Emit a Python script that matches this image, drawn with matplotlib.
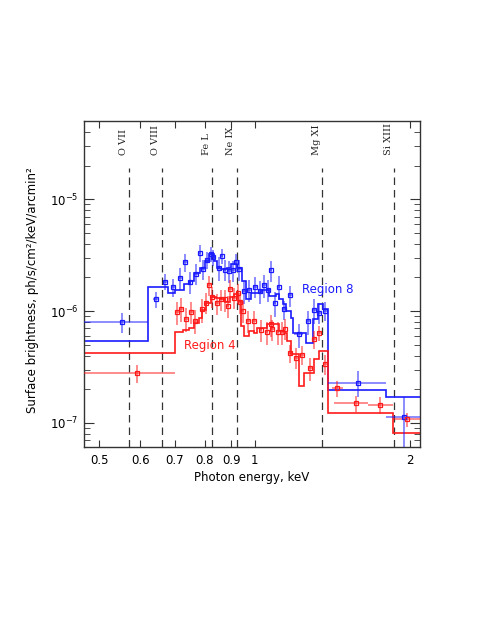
import numpy as np
import matplotlib
matplotlib.use('Agg')
import matplotlib.pyplot as plt
from matplotlib.ticker import FixedLocator, NullLocator, LogLocator

plt.rcParams['font.family'] = ['DejaVu Sans']

# Region 8 (blue) data points
e8 = [0.553, 0.644, 0.671, 0.694, 0.716, 0.732, 0.748, 0.770, 0.782, 0.795,
      0.810, 0.824, 0.831, 0.852, 0.863, 0.874, 0.892, 0.908, 0.920, 0.933,
      0.954, 0.975, 1.002, 1.024, 1.042, 1.061, 1.074, 1.093, 1.113, 1.141,
      1.171, 1.216, 1.269, 1.303, 1.333, 1.366, 1.587, 1.944]
s8 = [0.80, 1.27, 1.83, 1.65, 1.98, 2.72, 1.82, 2.16, 3.32, 2.39,
      2.87, 3.24, 3.05, 2.44, 3.12, 2.34, 2.29, 2.33, 2.75, 2.36,
      1.51, 1.55, 1.65, 1.51, 1.70, 1.55, 2.31, 1.18, 1.65, 1.04,
      1.39, 0.62, 0.81, 1.02, 0.97, 1.01, 0.23, 0.112]
s8err = [0.16, 0.20, 0.30, 0.30, 0.45, 0.50, 0.40, 0.45, 0.60, 0.50,
         0.50, 0.50, 0.50, 0.60, 0.50, 0.50, 0.50, 0.50, 0.50, 0.50,
         0.35, 0.35, 0.35, 0.35, 0.40, 0.35, 0.50, 0.30, 0.40, 0.20,
         0.30, 0.15, 0.20, 0.25, 0.20, 0.20, 0.06, 0.06]
e8lo = [0.086, 0.010, 0.006, 0.006, 0.006, 0.006, 0.006, 0.006, 0.006, 0.006,
        0.006, 0.006, 0.006, 0.006, 0.006, 0.006, 0.006, 0.006, 0.006, 0.006,
        0.008, 0.008, 0.008, 0.008, 0.008, 0.008, 0.008, 0.008, 0.008, 0.010,
        0.010, 0.025, 0.012, 0.012, 0.012, 0.012, 0.199, 0.148]
e8hi = [0.069, 0.010, 0.006, 0.006, 0.006, 0.006, 0.006, 0.006, 0.006, 0.006,
        0.006, 0.006, 0.006, 0.006, 0.006, 0.006, 0.006, 0.006, 0.006, 0.006,
        0.008, 0.008, 0.008, 0.008, 0.008, 0.008, 0.008, 0.008, 0.008, 0.010,
        0.010, 0.025, 0.012, 0.012, 0.012, 0.012, 0.209, 0.150]

# Region 4 (red) data points
e4 = [0.592, 0.708, 0.721, 0.737, 0.752, 0.766, 0.789, 0.804, 0.815, 0.828,
      0.845, 0.859, 0.874, 0.886, 0.897, 0.912, 0.926, 0.937, 0.948, 0.969,
      0.997, 1.027, 1.054, 1.074, 1.082, 1.107, 1.127, 1.143, 1.169, 1.201,
      1.236, 1.279, 1.303, 1.334, 1.367, 1.440, 1.571, 1.748, 1.970]
s4 = [0.280, 0.974, 1.05, 0.857, 0.99, 0.818, 1.035, 1.19, 1.72, 1.35,
      1.18, 1.28, 1.27, 1.11, 1.59, 1.32, 1.46, 1.20, 1.01, 0.814,
      0.814, 0.675, 0.648, 0.760, 0.687, 0.650, 0.650, 0.697, 0.422, 0.384,
      0.408, 0.308, 0.559, 0.636, 0.339, 0.204, 0.150, 0.145, 0.108]
s4err = [0.05, 0.22, 0.25, 0.20, 0.22, 0.20, 0.25, 0.25, 0.35, 0.28,
         0.25, 0.28, 0.28, 0.25, 0.30, 0.28, 0.30, 0.25, 0.22, 0.18,
         0.18, 0.15, 0.15, 0.17, 0.15, 0.15, 0.15, 0.15, 0.08, 0.08,
         0.08, 0.07, 0.10, 0.10, 0.07, 0.035, 0.025, 0.025, 0.015]
e4lo = [0.125, 0.006, 0.006, 0.006, 0.006, 0.006, 0.006, 0.006, 0.006, 0.006,
        0.006, 0.006, 0.006, 0.006, 0.006, 0.006, 0.006, 0.006, 0.006, 0.008,
        0.008, 0.008, 0.008, 0.008, 0.008, 0.008, 0.008, 0.008, 0.010, 0.010,
        0.010, 0.010, 0.010, 0.010, 0.010, 0.032, 0.146, 0.093, 0.120]
e4hi = [0.108, 0.006, 0.006, 0.006, 0.006, 0.006, 0.006, 0.006, 0.006, 0.006,
        0.006, 0.006, 0.006, 0.006, 0.006, 0.006, 0.006, 0.006, 0.006, 0.008,
        0.008, 0.008, 0.008, 0.008, 0.008, 0.008, 0.008, 0.008, 0.010, 0.010,
        0.010, 0.010, 0.010, 0.010, 0.010, 0.045, 0.084, 0.103, 0.120]

# model step functions (bin edges, values in 1e-6)
m8_edges = [0.45, 0.622, 0.679, 0.702, 0.729, 0.749, 0.762, 0.783, 0.800, 0.815,
            0.834, 0.846, 0.862, 0.885, 0.898, 0.923, 0.946, 0.960, 0.982, 1.027,
            1.066, 1.098, 1.115, 1.132, 1.149, 1.175, 1.184, 1.256, 1.294, 1.324,
            1.353, 1.388, 1.796, 2.20]
m8_vals = [0.536, 1.65, 1.46, 1.56, 1.73, 1.85, 2.20, 2.44, 2.79, 3.21,
           2.79, 2.44, 2.36, 2.44, 2.65, 2.44, 1.85, 1.27, 1.46, 1.56,
           1.36, 1.41, 1.27, 1.15, 1.00, 0.873, 0.641, 0.522, 0.843, 1.15,
           1.035, 0.197, 0.172]
m4_edges = [0.45, 0.702, 0.727, 0.745, 0.762, 0.779, 0.791, 0.803, 0.821, 0.840,
            0.859, 0.874, 0.895, 0.912, 0.926, 0.939, 0.953, 0.975, 0.997, 1.012,
            1.058, 1.115, 1.140, 1.157, 1.175, 1.216, 1.246, 1.303, 1.333, 1.388,
            1.851, 2.20]
m4_vals = [0.419, 0.655, 0.677, 0.711, 0.788, 0.873, 1.02, 1.19, 1.345, 1.317,
           1.27, 1.196, 1.35, 1.41, 1.23, 0.735, 0.598, 0.663, 0.641, 0.711,
           0.760, 0.663, 0.641, 0.540, 0.411, 0.214, 0.282, 0.37, 0.44, 0.122,
           0.082]

# emission lines
line_e = [0.572, 0.660, 0.825, 0.922, 1.35, 1.86]
line_names = ['O VII', 'O VIII', 'Fe L', 'Ne IX', 'Mg XI', 'Si XIII']

blue = '#1a1aff'
red = '#ff1a1a'

fig = plt.figure(figsize=(4.88, 6.32), dpi=100)
ax = fig.add_axes([0.172, 0.2927, 0.689, 0.5158])

sc = 1e-6
for ee, ss, se, lo, hi, col in [(e8, s8, s8err, e8lo, e8hi, blue),
                                (e4, s4, s4err, e4lo, e4hi, red)]:
    ee = np.array(ee); ss = np.array(ss) * sc; se = np.array(se) * sc
    ax.errorbar(ee, ss, yerr=se, xerr=[lo, hi], fmt='none', ecolor=col,
                alpha=0.5, elinewidth=1.4, capsize=0, zorder=3)
    ax.plot(ee, ss, 's', ms=3.0, mfc='none', mec=col, mew=0.9, zorder=4)

ax.stairs(np.array(m8_vals) * sc, m8_edges, baseline=None, color=blue, lw=1.2, zorder=2)
ax.stairs(np.array(m4_vals) * sc, m4_edges, baseline=None, color=red, lw=1.2, zorder=2)

ax.set_xscale('log')
ax.set_yscale('log')
ax.set_xlim(0.467, 2.09)
ax.set_ylim(6.1e-8, 5.0e-5)

for le, ln in zip(line_e, line_names):
    ax.axvline(le, ymin=0, ymax=0.856, color='#333333', lw=0.9,
               dashes=(6, 4), zorder=1)
    ax.annotate(ln, xy=(le, 1.92e-5), xytext=(-4, 9), textcoords='offset points',
                rotation=90, ha='center', va='bottom', fontsize=7,
                family='DejaVu Serif', color='#222222')

ax.text(1.386, 1.56e-6, 'Region 8', color=blue, fontsize=8.5, ha='center', va='center')
ax.text(0.818, 4.94e-7, 'Region 4', color=red, fontsize=8.5, ha='center', va='center')

ax.xaxis.set_major_locator(FixedLocator([0.5, 0.6, 0.7, 0.8, 0.9, 1, 2]))
ax.xaxis.set_minor_locator(NullLocator())
ax.set_xticklabels(['0.5', '0.6', '0.7', '0.8', '0.9', '1', '2'])
ax.yaxis.set_major_locator(LogLocator(base=10))
ax.yaxis.set_minor_locator(LogLocator(base=10, subs=np.arange(2, 10)))

ax.tick_params(which='both', direction='in', top=True, right=True, labelsize=8.5,
               color='#333333')
ax.tick_params(axis='x', which='major', length=5, pad=5)
ax.tick_params(axis='y', which='major', length=7, pad=4)
ax.tick_params(axis='y', which='minor', length=4)
for sp in ax.spines.values():
    sp.set_linewidth(1.0)
    sp.set_color('#333333')

ax.set_xlabel('Photon energy, keV', fontsize=8.5, labelpad=3)
ax.set_ylabel('Surface brightness, ph/s/cm\u00b2/keV/arcmin\u00b2', fontsize=8.5)
ax.yaxis.set_label_coords(-0.135, 0.48)

fig.savefig('out.png', dpi=100)
